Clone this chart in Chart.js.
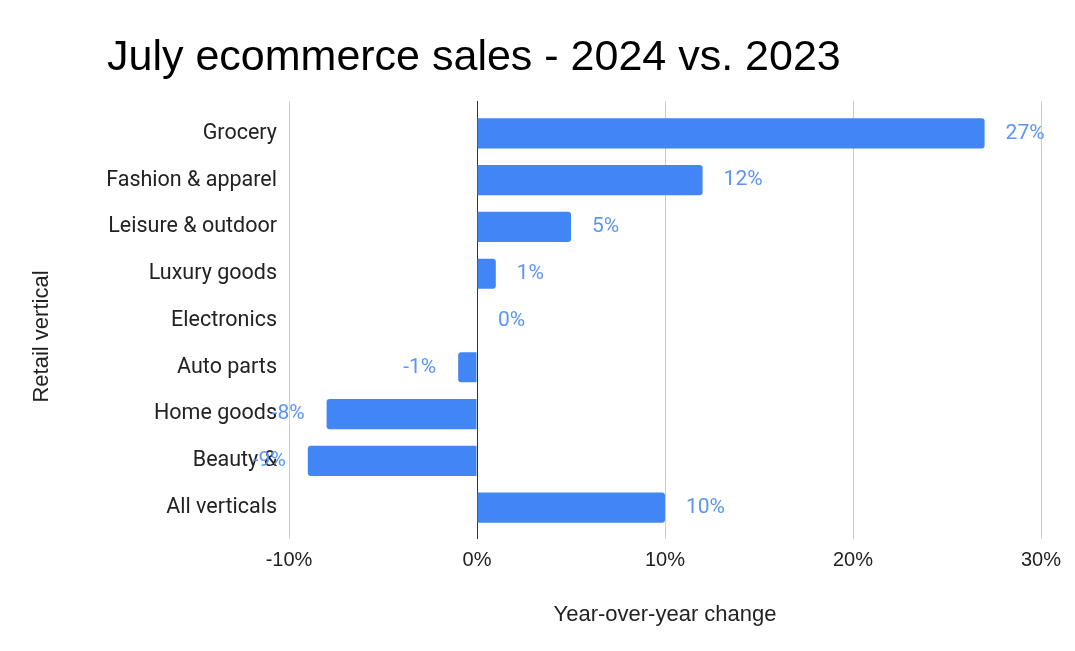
<!DOCTYPE html>
<html><head><meta charset="utf-8">
<script src="https://cdn.jsdelivr.net/npm/chart.js@4.4.1/dist/chart.umd.min.js"></script>
<style>html,body{margin:0;padding:0;background:#fff}#wrap{width:1075px;height:651px;position:relative}</style>
</head><body><div id="wrap"><canvas id="c"></canvas></div>
<script>
const categories = ['Grocery','Fashion & apparel','Leisure & outdoor','Luxury goods','Electronics','Auto parts','Home goods','Beauty &','All verticals'];
const yoyChange = [27,12,5,1,0,-1,-8,-9,10];
const xTicks = [-10,0,10,20,30];
const chartTitle = 'July ecommerce sales - 2024 vs. 2023';
const xAxisTitle = 'Year-over-year change';
const yAxisTitle = 'Retail vertical';

const pct = v => v + '%';
const gridColor = c => (c.tick && c.tick.value === 0) ? '#333333' : '#cccccc';

const layoutTweaks = {
  id: 'layoutTweaks',
  afterLayout(chart) {
    if (chart.titleBlock) chart.titleBlock.left = 107;
    const s = chart.scales.y;
    if (s && !s._shiftedTitle) {
      const orig = s.drawTitle.bind(s);
      s.drawTitle = function () {
        this.ctx.save();
        this.ctx.translate(0, 16);
        orig();
        this.ctx.restore();
      };
      s._shiftedTitle = true;
    }
  }
};

const valueLabels = {
  id: 'valueLabels',
  afterDatasetsDraw(chart) {
    const ctx = chart.ctx;
    const meta = chart.getDatasetMeta(0);
    ctx.save();
    ctx.font = '21px Roboto';
    ctx.fillStyle = '#5b95f5';
    ctx.textBaseline = 'middle';
    meta.data.forEach((bar, i) => {
      const v = chart.data.datasets[0].data[i];
      if (v < 0) { ctx.textAlign = 'right'; ctx.fillText(pct(v), bar.x - 22, bar.y); }
      else { ctx.textAlign = 'left'; ctx.fillText(pct(v), bar.x + 21, bar.y); }
    });
    ctx.restore();
  }
};

new Chart(document.getElementById('c'), {
  type: 'bar',
  data: {
    labels: categories,
    datasets: [{
      data: yoyChange,
      backgroundColor: '#4285f4',
      borderRadius: 3,
      borderSkipped: 'start',
      barPercentage: 0.645,
      categoryPercentage: 1.0
    }]
  },
  options: {
    indexAxis: 'y',
    responsive: true,
    maintainAspectRatio: false,
    animation: false,
    layout: { padding: { left: 0, right: 34, top: 0, bottom: 0 } },
    plugins: {
      legend: { display: false },
      tooltip: { enabled: false },
      title: {
        display: true, text: chartTitle, align: 'start', color: '#000000',
        font: { family: 'Liberation Sans', size: 43, weight: 'normal' },
        padding: { top: 32.2, bottom: 17.2 }
      }
    },
    scales: {
      x: {
        type: 'linear', position: 'bottom', min: -10, max: 30,
        afterBuildTicks: s => { s.ticks = xTicks.map(v => ({ value: v })); },
        border: { display: false },
        grid: { color: gridColor, lineWidth: 1, drawTicks: true, tickLength: 8 },
        ticks: { callback: v => pct(v), color: '#222222', padding: 9,
          font: { family: 'Liberation Sans', size: 20 } },
        title: { display: true, text: xAxisTitle, color: '#222222',
          font: { family: 'Liberation Sans', size: 22 }, padding: { top: 20.8, bottom: 22.8 } }
      },
      x2: {
        type: 'linear', position: 'top', min: -10, max: 30,
        afterBuildTicks: s => { s.ticks = xTicks.map(v => ({ value: v })); },
        border: { display: false },
        grid: { color: gridColor, drawOnChartArea: false, drawTicks: true, tickLength: 9 },
        ticks: { display: false }
      },
      y: {
        type: 'category',
        afterFit: s => { s.width = 289; },
        border: { display: false },
        grid: { display: false },
        ticks: { color: '#222222', padding: 4, font: { family: 'Roboto', size: 21.5 } },
        title: { display: true, text: yAxisTitle, color: '#222222',
          font: { family: 'Liberation Sans', size: 22 }, padding: { top: 28.8, bottom: 0 } }
      }
    }
  },
  plugins: [layoutTweaks, valueLabels]
});
</script></body></html>
